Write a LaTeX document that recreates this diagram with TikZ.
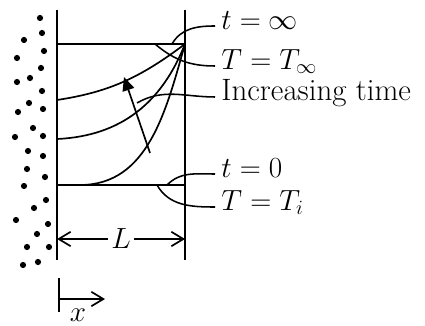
\documentclass[tikz,border=0pt]{standalone}
\usepackage{amsmath}
\usetikzlibrary{arrows.meta}

\begin{document}
\begin{tikzpicture}[
    x=0.025cm, y=0.025cm,
    line width=1.2pt,
    tag/.style={anchor=west, inner sep=4pt, font=\fontsize{22}{26}\selectfont, text height=0.7em, text depth=0.25em},
    leader/.style={line width=1.1pt},
    barb/.style={-{Straight Barb[length=3mm, width=3.6mm]}},
]
    \useasboundingbox (0,0) rectangle (425,-326);

    % Fluid particles
    \foreach \px/\py in {40/18, 42/33, 24/40, 44/51, 17/58, 41/68, 30/78, 17/82,
        42/91, 29/103, 43/109, 18/112, 33/128, 43/136, 15/137, 28/151, 43/156,
        27/169, 45/177, 24/186, 46/200, 34/208, 16/220, 48/224, 37/234, 27/247,
        49/247, 23/265, 38/262}
        \fill (\px,-\py) circle (3.1);

    % Slab faces
    \coordinate (lt) at (57,-10);
    \coordinate (lb) at (57,-260);
    \coordinate (rt) at (185,-10);
    \coordinate (rb) at (185,-260);
    \draw (lt) -- (lb);
    \draw (rt) -- (rb);

    % Final and initial profiles
    \coordinate (finL) at (57,-44);
    \coordinate (fin) at (185,-44);
    \coordinate (iniL) at (57,-185);
    \coordinate (iniR) at (185,-185);
    \draw (finL) -- (fin);
    \draw (iniL) -- (iniR);

    % Transient profiles
    \coordinate (pa) at (57,-100);
    \coordinate (pb) at (57,-139);
    \coordinate (pc) at (80,-185);
    \draw (pa) .. controls (110,-92) and (141,-77) .. (fin);
    \draw (pb) .. controls (122,-136) and (162,-102) .. (fin);
    \draw (pc) .. controls (148,-185) and (166,-111) .. (fin);

    % Time arrow
    \coordinate (tail) at (150,-153);
    \coordinate (head) at (124,-77);
    \draw[-{Triangle[length=3.4mm, width=3mm]}] (tail) -- (head);

    % Labels
    \node[tag] (tinf) at (215,-26) {$t = \infty$};
    \node[tag] (Tinf) at (215,-66) {$T = T_\infty$};
    \node[tag] (incr) at (215,-97) {Increasing time};
    \node[tag] (tzero) at (215,-174) {$t = 0$};
    \node[tag] (Tini) at (215,-207) {$T = T_i$};

    % Leaders
    \coordinate (a1) at (172,-44);
    \coordinate (a2) at (155,-44);
    \coordinate (a3) at (137,-103);
    \coordinate (a4) at (167,-185);
    \coordinate (a5) at (157,-185);
    \draw[leader] (tinf.west) to[out=180, in=60] (a1);
    \draw[leader] (Tinf.west) to[out=180, in=-40] (a2);
    \draw[leader] (incr.west) to[out=180, in=30] (a3);
    \draw[leader] (tzero.west) to[out=180, in=45] (a4);
    \draw[leader] (Tini.west) to[out=180, in=-60] (a5);

    % Thickness
    \coordinate (dl) at (57,-239);
    \coordinate (dr) at (185,-239);
    \draw[{Straight Barb[length=3mm, width=3.6mm]}-{Straight Barb[length=3mm, width=3.6mm]}]
        (dl) -- node[fill=white, inner sep=2pt, font=\fontsize{22}{26}\selectfont] (len) {$L$} (dr);

    % Axis
    \coordinate (ot) at (59,-278);
    \coordinate (ob) at (59,-312);
    \coordinate (o) at (59,-299);
    \coordinate (ox) at (105,-299);
    \draw (ot) -- (ob);
    \draw[barb] (o) -- (ox);
    \node[font=\fontsize{22}{26}\selectfont] (xlab) at (78,-315) {$x$};
\end{tikzpicture}
\end{document}
